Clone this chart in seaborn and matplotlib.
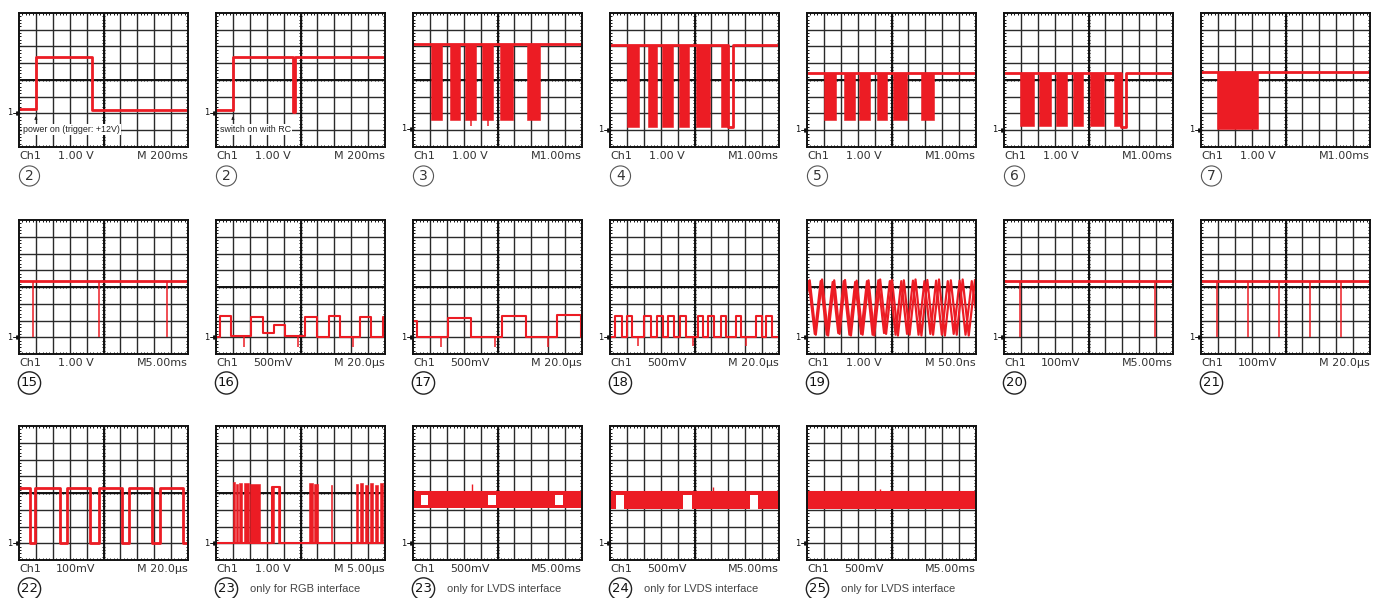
import numpy as np
import matplotlib.pyplot as plt
import seaborn as sns

sns.set_style('white')
plt.rcParams['font.family'] = ['DejaVu Sans']

RED = '#ec1c24'
GRID = '#2a2a2a'
TXT = '#333333'

# ---------------- labels under each screen ----------------
PANEL_NUM = ['2', '2', '3', '4', '5', '6', '7',
             '15', '16', '17', '18', '19', '20', '21',
             '22', '23', '23', '24', '25']
VOLTS = ['1.00 V'] * 7 + ['1.00 V', '500mV', '500mV', '500mV', '1.00 V', '100mV', '100mV',
                          '100mV', '1.00 V', '500mV', '500mV', '500mV']
TIMEBASE = ['M 200ms', 'M 200ms', 'M1.00ms', 'M1.00ms', 'M1.00ms', 'M1.00ms', 'M1.00ms',
            'M5.00ms', 'M 20.0\u03bcs', 'M 20.0\u03bcs', 'M 20.0\u03bcs', 'M 50.0ns', 'M5.00ms', 'M 20.0\u03bcs',
            'M 20.0\u03bcs', 'M 5.00\u03bcs', 'M5.00ms', 'M5.00ms', 'M5.00ms']
CAPTIONS = [''] * 15 + ['only for RGB interface', 'only for LVDS interface',
                        'only for LVDS interface', 'only for LVDS interface']
GROUND = [2.05, 2.05, 1.1, 1.03, 1.03, 1.03, 1.04,
          1.0, 1.0, 1.0, 1.0, 1.0, 1.0, 1.0,
          1.0, 1.0, 1.0, 1.0, 1.0]

# ---------------- row 1 ----------------
P2A_T = [0, 1.0, 4.34, 10]
P2A_V = [2.25, 5.37, 2.2, 2.2]
P2B_T = [0, 1.0, 4.55, 4.68, 10]
P2B_V = [2.2, 5.37, 2.1, 5.37, 5.37]

P3_HIGH, P3_LOW = 6.12, 1.63
P3_START = [1.04, 2.20, 3.07, 4.09, 5.12, 6.75]
P3_END = [1.73, 2.81, 3.74, 4.72, 5.91, 7.54]
P3_SPIKE_T = [3.44, 4.43]

P4_HIGH, P4_LOW = 6.1, 1.22
P4_START = [1.0, 2.23, 3.08, 4.1, 5.09, 6.56]
P4_END = [1.7, 2.79, 3.75, 4.69, 5.89, 6.96]
P4_T = [0, 6.96, 7.25, 10]
P4_V = [6.1, 1.18, 6.1, 6.1]

P5_HIGH, P5_LOW = 4.42, 1.6
P5_START = [1.0, 2.19, 3.08, 4.13, 5.07, 6.76]
P5_END = [1.74, 2.86, 3.71, 4.73, 5.94, 7.54]

P6_HIGH, P6_LOW = 4.42, 1.23
P6_START = [0.94, 2.1, 3.1, 4.06, 5.07, 6.52]
P6_END = [1.76, 2.77, 3.75, 4.69, 5.89, 6.9]
P6_T = [0, 6.9, 7.23, 10]
P6_V = [4.42, 1.2, 4.42, 4.42]

P7_HIGH, P7_LOW = 4.48, 1.1
P7_START = [0.97]
P7_END = [3.35]

# ---------------- row 2 ----------------
P15_HIGH = 4.35
P15_SPIKE_T = [0.81, 4.76, 8.74]

P16_T = [0, 0.26, 0.89, 2.05, 2.77, 3.41, 4.1, 5.25, 5.98, 6.67, 7.33, 8.55, 9.15, 9.86, 10]
P16_V = [1.0, 2.28, 1.05, 2.18, 1.25, 1.75, 1.05, 2.2, 1.0, 2.25, 1.0, 2.18, 1.0, 2.2, 2.2]
P16_SPIKE_T = [1.64, 4.85, 8.08]

P17_T = [0, 0.24, 2.09, 3.43, 5.28, 6.66, 8.5, 9.94, 10]
P17_V = [2.0, 1.03, 2.15, 1.03, 2.25, 1.02, 2.3, 1.0, 1.0]
P17_SPIKE_T = [1.67, 4.87, 8.0]

P18_LOW, P18_HIGH = 1.03, 2.25
P18_PULSE_START = [0.3, 0.99, 2.04, 2.79, 3.45, 4.14, 5.2, 5.8, 6.55, 7.45, 8.65, 9.25]
P18_PULSE_END = [0.69, 1.29, 2.4, 3.12, 3.78, 4.5, 5.5, 6.13, 6.85, 7.75, 9.0, 9.61]
P18_SPIKE_T = [1.68, 4.89, 8.05]

P19_T1 = [0, 0.16, 0.52, 0.89, 1.25, 1.61, 1.93, 2.25, 2.6, 2.94, 3.29, 3.64, 3.98, 4.33, 4.68,
          5.03, 5.38, 5.73, 6.07, 6.42, 6.77, 7.12, 7.46, 7.81, 8.16, 8.51, 8.86, 9.21, 9.57, 9.94, 10]
P19_V1 = [3.6, 4.4, 1.15, 4.45, 1.1, 4.4, 1.2, 4.42, 1.1, 4.38, 1.15, 4.4, 1.1, 4.45, 1.2,
          4.42, 1.1, 4.4, 1.15, 4.45, 1.1, 4.42, 1.15, 4.45, 1.1, 4.4, 1.15, 4.45, 1.1, 4.42, 4.2]
P19_T2 = [0, 0.1, 0.46, 0.81, 1.17, 1.52, 1.85, 2.17, 2.51, 2.85, 3.2, 3.55, 3.88, 4.22, 4.56,
          4.9, 5.24, 5.58, 5.92, 6.27, 6.6, 6.95, 7.3, 7.64, 7.98, 8.33, 8.68, 9.03, 9.38, 9.75, 10]
P19_V2 = [3.9, 4.35, 1.2, 4.35, 1.15, 4.3, 1.25, 4.35, 1.15, 4.3, 1.2, 4.35, 1.15, 4.4, 1.25,
          4.35, 1.15, 4.35, 1.2, 4.38, 1.15, 4.35, 1.2, 4.38, 1.15, 4.35, 1.2, 4.38, 1.15, 4.35, 2.6]

P20_HIGH = 4.33
P20_SPIKE_T = [0.97, 8.95]

P21_HIGH = 4.35
P21_SPIKE_T = [0.95, 2.79, 4.63, 6.44, 8.28]

# ---------------- row 3 ----------------
P22_T = [0, 0.63, 0.97, 2.41, 2.86, 4.22, 4.71, 6.11, 6.51, 7.89, 8.32, 9.7, 10]
P22_V = [4.28, 1.04, 4.28, 1.04, 4.28, 1.04, 4.28, 1.04, 4.28, 1.04, 4.28, 1.04, 1.04]

P23_LOW = 1.04
P23_START = [1.01, 1.21, 1.35, 1.65, 1.99, 3.3, 3.66, 5.53, 5.77, 6.8, 8.27, 8.55, 8.83, 9.1, 9.38, 9.7]
P23_END = [1.15, 1.29, 1.51, 1.95, 2.58, 3.46, 3.78, 5.73, 6.06, 6.86, 8.43, 8.71, 9.01, 9.3, 9.6, 9.9]
P23_TOP = [4.65, 4.55, 4.6, 4.6, 4.55, 4.38, 4.38, 4.6, 4.55, 4.5, 4.55, 4.6, 4.5, 4.6, 4.5, 4.6]
P23_T = [0, 3.3, 3.78, 10]
P23_V = [1.04, 4.38, 1.04, 1.04]

P23L_BAND = (3.11, 4.06)
P23L_NOTCH_START = [0.45, 4.45, 8.4]
P23L_NOTCH_END = [0.89, 4.9, 8.85]
P23L_NOTCH_Y = (3.31, 3.87)
P23L_SPIKE = ([3.52], [4.56])

P24_BAND = (3.07, 4.04)
P24_NOTCH_START = [0.38, 4.34, 8.29]
P24_NOTCH_END = [0.82, 4.83, 8.78]
P24_NOTCH_Y = (3.07, 3.87)
P24_SPIKE = ([6.12], [4.36])

P25_BAND = (3.02, 4.06)
P25_SPIKE = ([4.32], [4.24])

# ---------------- layout (pixels) ----------------
W, H = 1384, 598
COL_X = [19, 216, 413, 610, 807, 1004, 1201]
ROW_Y = [13, 220, 426]
PW, PH = 169, 134


def pulses_to_steps(starts, ends, low, high):
    t, v = [0], [low]
    for a, b in zip(starts, ends):
        t += [a, b]
        v += [high, low]
    t.append(10)
    v.append(low)
    return t, v


P18_T, P18_V = pulses_to_steps(P18_PULSE_START, P18_PULSE_END, P18_LOW, P18_HIGH)

PANELS = [
    dict(steps=[(P2A_T, P2A_V)], note='power on (trigger: +12V)'),
    dict(steps=[(P2B_T, P2B_V)], note='switch on with RC'),
    dict(steps=[([0, 10], [P3_HIGH, P3_HIGH])], bursts=(P3_START, P3_END, P3_LOW, P3_HIGH),
         spikes=(P3_SPIKE_T, P3_LOW, 1.28)),
    dict(steps=[(P4_T, P4_V)], bursts=(P4_START, P4_END, P4_LOW, P4_HIGH)),
    dict(steps=[([0, 10], [P5_HIGH, P5_HIGH])], bursts=(P5_START, P5_END, P5_LOW, P5_HIGH)),
    dict(steps=[(P6_T, P6_V)], bursts=(P6_START, P6_END, P6_LOW, P6_HIGH)),
    dict(steps=[([0, 10], [P7_HIGH, P7_HIGH])], bursts=(P7_START, P7_END, P7_LOW, P7_HIGH)),
    dict(steps=[([0, 10], [P15_HIGH, P15_HIGH])], spikes=(P15_SPIKE_T, P15_HIGH, 1.0)),
    dict(steps=[(P16_T, P16_V)], spikes=(P16_SPIKE_T, 1.05, 0.4), thin=True),
    dict(steps=[(P17_T, P17_V)], spikes=(P17_SPIKE_T, 1.03, 0.4), thin=True),
    dict(steps=[(P18_T, P18_V)], spikes=(P18_SPIKE_T, 1.03, 0.45), thin=True),
    dict(zigzag=[(P19_T1, P19_V1), (P19_T2, P19_V2)]),
    dict(steps=[([0, 10], [P20_HIGH, P20_HIGH])], spikes=(P20_SPIKE_T, P20_HIGH, 1.0)),
    dict(steps=[([0, 10], [P21_HIGH, P21_HIGH])], spikes=(P21_SPIKE_T, P21_HIGH, 1.0)),
    dict(steps=[(P22_T, P22_V)]),
    dict(steps=[(P23_T, P23_V)], bursts=(P23_START, P23_END, P23_LOW, P23_TOP), thin=True),
    dict(band=P23L_BAND, notches=(P23L_NOTCH_START, P23L_NOTCH_END, P23L_NOTCH_Y), up=P23L_SPIKE),
    dict(band=P24_BAND, notches=(P24_NOTCH_START, P24_NOTCH_END, P24_NOTCH_Y), up=P24_SPIKE),
    dict(band=P25_BAND, up=P25_SPIKE),
]


def draw_screen(ax):
    ax.set_xticks([])
    ax.set_yticks([])
    for s in ax.spines.values():
        s.set_linewidth(1.4)
        s.set_color('#111111')
        s.set_zorder(5)
    ax.vlines(np.arange(1, 10), 0, 8, color=GRID, lw=1.0, zorder=1)
    ax.hlines(np.arange(1, 8), 0, 10, color=GRID, lw=1.0, zorder=1)
    ax.vlines(5, 0, 8, color='#111111', lw=1.4, zorder=1.5)
    ax.hlines(4, 0, 10, color='#111111', lw=1.4, zorder=1.5)
    tx = np.arange(0.2, 10, 0.2)
    ty = np.arange(0.2, 8, 0.2)
    kw = dict(color='#111111', lw=0.7, zorder=1.5)
    ax.vlines(tx, 4 - 0.07, 4 + 0.07, **kw)
    ax.hlines(ty, 5 - 0.07, 5 + 0.07, **kw)
    ax.vlines(tx, 0, 0.12, **kw)
    ax.vlines(tx, 7.88, 8, **kw)
    ax.hlines(ty, 0, 0.12, **kw)
    ax.hlines(ty, 9.88, 10, **kw)


def draw_panel(ax, spec, ground):
    lw = 1.5 if spec.get('thin') else 2.0
    if 'band' in spec:
        lo, hi = spec['band']
        ax.fill_between([0, 10], lo, hi, color=RED, lw=0, zorder=3)
        if 'notches' in spec:
            ns, ne, (nb, nt) = spec['notches']
            ax.bar(ns, nt - nb, width=np.array(ne) - np.array(ns), bottom=nb,
                   align='edge', color='white', lw=0, zorder=3.1)
        sns.lineplot(x=[0, 10], y=[hi, hi], ax=ax, color=RED, lw=2.2,
                     estimator=None, legend=False, zorder=3.2)
        ut, uy = spec['up']
        ax.vlines(ut, hi, uy, color=RED, lw=1.0, zorder=3.2)
    if 'bursts' in spec:
        bs, be, lo, top = spec['bursts']
        heights = np.array(top) - lo if np.ndim(top) else [top - lo] * len(bs)
        ax.bar(bs, heights, width=np.array(be) - np.array(bs), bottom=lo,
               align='edge', color=RED, ec=RED, lw=0.4, zorder=3)
    for t, v in spec.get('steps', []):
        sns.lineplot(x=t, y=v, ax=ax, color=RED, lw=lw, drawstyle='steps-post',
                     estimator=None, sort=False, legend=False, zorder=3.2)
    for t, v in spec.get('zigzag', []):
        sns.lineplot(x=t, y=v, ax=ax, color=RED, lw=1.6, estimator=None,
                     sort=False, legend=False, zorder=3.2)
    if 'spikes' in spec:
        st, top, bot = spec['spikes']
        ax.vlines(st, bot, top, color=RED, lw=1.1, zorder=3.2)
    if 'note' in spec:
        ax.text(0.22, 1.05, spec['note'], fontsize=6.4, family=['Liberation Sans', 'DejaVu Sans'],
                va='center', ha='left', color='#222222', zorder=4,
                bbox=dict(fc='white', ec='none', pad=0.8))
        ax.annotate('', xy=(1.0, ground - 0.05), xytext=(1.0, ground - 0.55),
                    arrowprops=dict(arrowstyle='-|>', lw=0.6, color='#222222',
                                    mutation_scale=4), zorder=4)
    ax.set_xlim(0, 10)
    ax.set_ylim(0, 8)
    ax.set_xlabel('')
    ax.set_ylabel('')


fig = plt.figure(figsize=(W / 100, H / 100), dpi=100)

slots = [(r, c) for r, n in enumerate([7, 7, 5]) for c in range(n)]
for i, (row, col) in enumerate(slots):
    left, top = COL_X[col], ROW_Y[row]
    ax = fig.add_axes([left / W, 1 - (top + PH) / H, PW / W, PH / H])
    draw_screen(ax)
    draw_panel(ax, PANELS[i], GROUND[i])

    # ground marker
    g = GROUND[i]
    ax.plot([-0.35, 0], [g, g], color='#111111', lw=0.7, clip_on=False)
    ax.plot([-0.05], [g], marker='>', ms=2.5, color='#111111', clip_on=False)
    ax.text(-0.4, g, '1', fontsize=6, ha='right', va='center', color='#111111')

    # scope readout
    ax.text(0, -0.55, 'Ch1', fontsize=8, ha='left', va='center', color=TXT)
    ax.text(3.35, -0.55, VOLTS[i], fontsize=8, ha='center', va='center', color=TXT)
    ax.text(10, -0.55, TIMEBASE[i], fontsize=8, ha='right', va='center', color=TXT)

    # circled number
    num = PANEL_NUM[i]
    one = len(num) == 1
    ax.text(0.62, -1.73, num, fontsize=10 if one else 9.5, ha='center',
            va='center', color='#333333' if one else '#111111',
            bbox=dict(boxstyle='circle,pad=0.22' if one else 'circle,pad=0.2',
                      fc='none', ec='#555555' if one else '#222222', lw=0.8 if one else 1.0))
    if CAPTIONS[i]:
        ax.text(2.0, -1.73, CAPTIONS[i], fontsize=8, ha='left', va='center',
                color='#444444', family=['Liberation Sans', 'DejaVu Sans'])

fig.savefig('out.png', dpi=100)
